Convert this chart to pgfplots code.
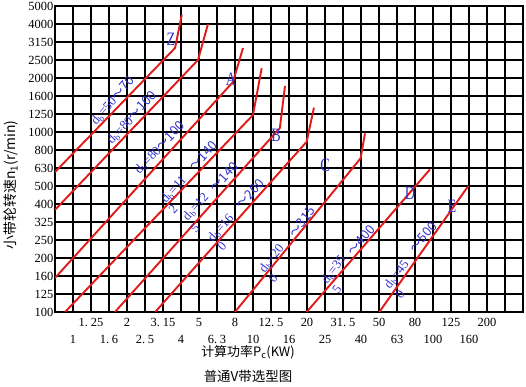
\documentclass[border=0pt]{standalone}
\usepackage{fontspec}
\setmainfont{Liberation Serif}
\newfontfamily\cjk{Noto Sans CJK SC}
\usepackage{graphicx}
\usepackage{pgfplots}
\pgfplotsset{compat=1.18}
\definecolor{lred}{RGB}{225,25,25}
\definecolor{lblue}{RGB}{50,50,205}
\newcommand{\dd}{.\kern0.22em}
\newcommand{\db}{d\textsubscript{b}}
\newcommand{\ti}{\cjk{～}}
\begin{document}
\begin{tikzpicture}
\useasboundingbox (0,0) rectangle (526bp,387bp);
\begin{axis}[
  at={(55bp,75bp)}, anchor=south west,
  width=468bp, height=306bp, scale only axis,
  xmode=log, ymode=log,
  xmin=0.79433, xmax=316.23, ymin=100, ymax=5011.87,
  xtick={1.2589,1.9953,3.1623,5.0119,7.9433,12.589,19.953,31.623,50.119,79.433,125.89,199.53},
  xticklabels={1\dd25,2,3\dd15,5,8,12\dd5,20,31\dd5,50,80,125,200},
  extra x ticks={1,1.5849,2.5119,3.9811,6.3096,10,15.849,25.119,39.811,63.096,100,158.49},
  extra x tick labels={1,1\dd6,2\dd5,4,6\dd3,10,16,25,40,63,100,160},
  extra x tick style={xmajorgrids=true, xticklabel style={yshift=-17bp}},
  minor xtick={251.19},
  ytick={100,125.89,158.49,199.53,251.19,316.23,398.11,501.19,630.96,794.33,1000,1258.9,1584.9,1995.3,2511.9,3162.3,3981.1,5011.9},
  yticklabels={100,125,160,200,250,325,400,500,630,800,1000,1250,1600,2000,2500,3150,4000,5000},
  xmajorgrids=true, xminorgrids=true, ymajorgrids=true,
  major grid style={black, line width=1.3bp},
  minor grid style={black, line width=1.3bp},
  axis line style={black, line width=1.3bp},
  major tick length=0pt, minor tick length=0pt,
  tick label style={font=\fontsize{12.5}{14}\selectfont, inner sep=0pt},
  xticklabel style={anchor=north, yshift=-6bp},
  yticklabel style={anchor=east, xshift=-1.5bp},
]
\addplot[lred, line width=1.9bp] coordinates {(0.794,599) (3.69,2929) (4.02,4467)};
\addplot[lred, line width=1.9bp] coordinates {(0.794,369) (4.95,2512) (5.62,3981)};
\addplot[lred, line width=1.9bp] coordinates {(0.794,154.5) (7.74,1896) (8.8,2929)};
\addplot[lred, line width=1.9bp] coordinates {(0.903,100) (10.0,1243) (11.17,2259)};
\addplot[lred, line width=1.9bp] coordinates {(1.71,100) (14.1,1052) (15.06,1802)};
\addplot[lred, line width=1.9bp] coordinates {(2.86,100) (19.87,883) (21.8,1365)};
\addplot[lred, line width=1.9bp] coordinates {(7.94,100) (39.6,714) (41.9,983)};
\addplot[lred, line width=1.9bp] coordinates {(19.87,100) (96.2,620)};
\addplot[lred, line width=1.9bp] coordinates {(50.3,100) (157,501)};
\end{axis}
\begin{scope}[shift={(0bp,387bp)}, x=1bp, y=-1bp,
  lbl/.style={text=lblue, inner sep=0pt, font=\fontsize{13}{13}\selectfont},
  big/.style={text=lblue, inner sep=0pt, font=\fontsize{19}{19}\selectfont}]
\node[lbl, rotate=49] at (113,101) {\db=50\ti70};
\node[lbl, rotate=47] at (132,118) {\db=80\ti100};
\node[lbl, rotate=46] at (160,148) {\db=80\ti100};
\node[lbl, rotate=48] at (174,190) {\db=11};
\node[lbl, rotate=48] at (173,209) {2};
\node[lbl, rotate=48] at (203,156) {\ti140};
\node[lbl, rotate=48] at (196,207) {\db=12};
\node[lbl, rotate=48] at (195,228) {5};
\node[lbl, rotate=48] at (224,177) {\ti140};
\node[lbl, rotate=48] at (221,228) {\db=16};
\node[lbl, rotate=48] at (222,246) {0};
\node[lbl, rotate=48] at (250,194) {\ti200};
\node[lbl, rotate=52] at (272,259) {\db=20};
\node[lbl, rotate=52] at (273,278) {0};
\node[lbl, rotate=52] at (302,222) {\ti315};
\node[lbl, rotate=54] at (334,270) {\db=35};
\node[lbl, rotate=54] at (337,289) {5};
\node[lbl, rotate=50] at (361,240) {\ti400};
\node[lbl, rotate=52] at (397,275) {\db=45};
\node[lbl, rotate=52] at (400,294) {0};
\node[lbl, rotate=50] at (423,237) {\ti500};
\node[big] at (171,39) {\scalebox{0.75}[1]{Z}};
\node[big] at (231,79) {\scalebox{0.75}[1]{A}};
\node[big] at (276,135) {\scalebox{0.75}[1]{B}};
\node[big] at (325,165) {\scalebox{0.75}[1]{C}};
\node[big] at (410,193) {\scalebox{0.75}[1]{D}};
\node[big] at (452,206) {\scalebox{0.75}[1]{E}};
\node[rotate=90, inner sep=0pt, font=\fontsize{14}{14}\selectfont] at (11,185) {\cjk{小带轮转速}n\textsubscript{1}(r/min)};
\node[inner sep=0pt, font=\fontsize{13}{13}\selectfont] at (248,352) {\cjk{计算功率}P\textsubscript{c}(KW)};
\node[inner sep=0pt, font=\fontsize{13.5}{13.5}\selectfont] at (248,376) {\cjk{普通}V\cjk{带选型图}};
\end{scope}
\end{tikzpicture}
\end{document}
